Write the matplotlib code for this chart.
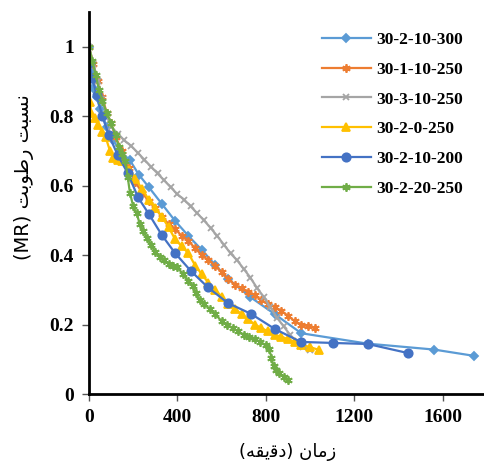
import matplotlib
matplotlib.use("Agg")
import matplotlib.pyplot as plt

# ---------------- data ----------------
t_300 = [0, 10, 20, 35, 50, 80, 110, 140, 185, 225, 270, 330, 390, 450, 510, 570, 630, 730, 840, 960, 1260, 1560, 1740]
mr_300 = [1.0, 0.93, 0.88, 0.855, 0.82, 0.77, 0.73, 0.70, 0.673, 0.632, 0.596, 0.547, 0.498, 0.455, 0.415, 0.372, 0.331, 0.279, 0.23, 0.175, 0.145, 0.128, 0.11]

t_1_250 = [0, 20, 40, 60, 80, 100, 120, 150, 180, 210, 240, 270, 300, 330, 360, 390, 420, 450, 480, 510, 540,
           570, 600, 630, 660, 690, 720, 750, 780, 810, 840, 870, 900, 930, 960, 990, 1020]
mr_1_250 = [1.0, 0.95, 0.90, 0.855, 0.81, 0.78, 0.74, 0.70, 0.65, 0.61, 0.58, 0.555, 0.535, 0.51, 0.49, 0.475, 0.455,
            0.44, 0.42, 0.40, 0.385, 0.37, 0.35, 0.33, 0.315, 0.305, 0.295, 0.285, 0.27, 0.26, 0.25, 0.24, 0.225,
            0.21, 0.20, 0.195, 0.19]

t_3_250 = [0, 20, 40, 60, 80, 100, 130, 160, 190, 220, 250, 280, 310, 340, 370, 400, 430, 460, 490, 520, 550, 580,
           610, 640, 670, 700, 730, 760, 790, 820, 850, 880, 910, 940, 970, 1000]
mr_3_250 = [1.0, 0.95, 0.90, 0.85, 0.80, 0.77, 0.75, 0.73, 0.715, 0.695, 0.675, 0.655, 0.635, 0.615, 0.595, 0.575,
            0.56, 0.54, 0.52, 0.50, 0.478, 0.455, 0.43, 0.405, 0.385, 0.36, 0.335, 0.305, 0.28, 0.25, 0.22, 0.195,
            0.17, 0.15, 0.135, 0.127]

t_0_250 = [0, 5, 10, 25, 40, 60, 75, 95, 110, 130, 150, 180, 210, 240, 270, 300, 330, 360, 390, 420, 450, 480, 510,
           540, 570, 600, 630, 660, 690, 720, 750, 780, 810, 840, 870, 900, 930, 960, 1000, 1040]
mr_0_250 = [0.91, 0.84, 0.81, 0.795, 0.775, 0.755, 0.74, 0.70, 0.68, 0.675, 0.67, 0.645, 0.62, 0.59, 0.56, 0.535,
            0.51, 0.48, 0.445, 0.425, 0.405, 0.37, 0.345, 0.32, 0.30, 0.28, 0.26, 0.245, 0.23, 0.215, 0.20, 0.19,
            0.18, 0.17, 0.165, 0.158, 0.15, 0.142, 0.135, 0.127]

t_200 = [0, 15, 35, 60, 90, 130, 176, 222, 272, 330, 389, 461, 538, 628, 732, 841, 958, 1103, 1261, 1442]
mr_200 = [0.953, 0.91, 0.86, 0.80, 0.745, 0.688, 0.635, 0.566, 0.517, 0.457, 0.406, 0.354, 0.307, 0.262, 0.231,
          0.187, 0.15, 0.147, 0.144, 0.118]

t_20_250 = [0, 15, 30, 45, 60, 80, 100, 120, 135, 150, 165, 175, 185, 200, 215, 230, 245, 262, 280, 300, 320, 340,
            360, 380, 400, 425, 450, 470, 485, 500, 520, 545, 570, 600, 625, 650, 675, 700, 725, 750, 775, 800, 815,
            825, 835, 845, 860, 880, 900]
mr_20_250 = [1.0, 0.96, 0.92, 0.875, 0.845, 0.81, 0.78, 0.745, 0.71, 0.69, 0.67, 0.625, 0.58, 0.54, 0.52, 0.49,
             0.47, 0.45, 0.43, 0.41, 0.395, 0.385, 0.375, 0.37, 0.365, 0.345, 0.325, 0.31, 0.29, 0.27, 0.26, 0.245,
             0.23, 0.21, 0.20, 0.19, 0.18, 0.17, 0.165, 0.158, 0.15, 0.14, 0.13, 0.105, 0.08, 0.068, 0.06, 0.05, 0.04]

labels = ["30-2-10-300", "30-1-10-250", "30-3-10-250", "30-2-0-250", "30-2-10-200", "30-2-20-250"]
x_ticks = [0, 400, 800, 1200, 1600]
y_ticks = [0, 0.2, 0.4, 0.6, 0.8, 1.0]
y_tick_labels = ["0", "0.2", "0.4", "0.6", "0.8", "1"]

# Persian labels written in visual (pre-shaped presentation-form) order
y_label = "(MR) " + "\uFE96\uFE91\uFEEE\uFEC3\uFEAD" + " " + "\uFE96\uFE92\uFEB4\uFEE7"
x_label = "(" + "\uFEEA\uFED8\uFBFE\uFED7\uFEA9" + ") " + "\uFEE5\uFE8E\uFEE3\uFEAF"

# ---------------- plot ----------------
plt.rcParams['font.family'] = ['Liberation Serif', 'DejaVu Serif', 'DejaVu Sans']

fig = plt.figure(figsize=(4.85, 4.65), dpi=100)
W, H = 485, 465
ax = fig.add_axes([89 / W, (H - 394) / H, (487 - 89) / W, (394 - 12) / H])

series = [
    (t_300, mr_300, "#5B9BD5", "D", 4),
    (t_1_250, mr_1_250, "#ED7D31", (6, 2, 0), 6),
    (t_3_250, mr_3_250, "#A5A5A5", "x", 5),
    (t_0_250, mr_0_250, "#FFC000", "^", 6),
    (t_200, mr_200, "#4472C4", "o", 6),
    (t_20_250, mr_20_250, "#70AD47", (6, 2, 0), 6),
]
for (tx, my, c, m, ms), lab in zip(series, labels):
    ax.plot(tx, my, color=c, marker=m, markersize=ms, lw=1.6, label=lab,
            markeredgecolor=c, markerfacecolor=c, markeredgewidth=1.3)

ax.set_xlim(0, 1800)
ax.set_ylim(0, 1.1)
ax.set_xticks(x_ticks)
ax.set_xticklabels([str(v) for v in x_ticks])
ax.set_yticks(y_ticks)
ax.set_yticklabels(y_tick_labels)
for lbl in ax.get_xticklabels() + ax.get_yticklabels():
    lbl.set_fontweight('bold')
    lbl.set_fontsize(14)
ax.tick_params(direction='out', length=5, width=1, color='#555555', pad=6)

for s in ['top', 'right']:
    ax.spines[s].set_visible(False)
for s in ['left', 'bottom']:
    ax.spines[s].set_linewidth(2)
    ax.spines[s].set_color('black')

leg = ax.legend(loc='upper left', bbox_to_anchor=((322 - 89) / 398, (394 - 32) / 382), frameon=False,
                prop={'weight': 'bold', 'size': 12.5}, handlelength=2.8, handletextpad=0.3,
                labelspacing=0.78, borderaxespad=0, borderpad=0)

fig.text(288 / W, 1 - 452 / H, x_label, ha='center', va='center', fontsize=13,
         family=['DejaVu Sans'])
fig.text(24 / W, 1 - 177 / H, y_label, ha='center', va='center', rotation=90, fontsize=14,
         family=['DejaVu Sans'])

fig.savefig("out.png", dpi=100)
